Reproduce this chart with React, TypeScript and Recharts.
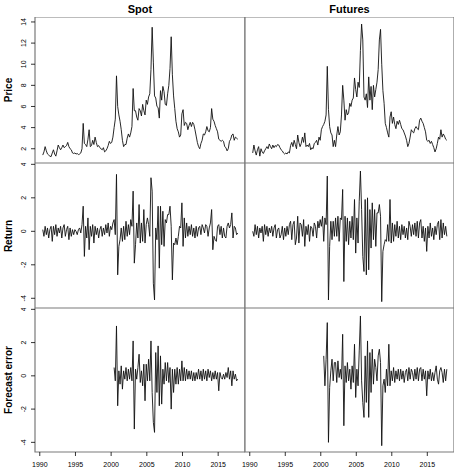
import React from 'react';
import { LineChart, Line, XAxis, YAxis, ReferenceArea } from 'recharts';

const fullStart = 1990 + 5 / 12; // first observation 1990.42
const errStart = 2000 + 5 / 12; // forecast errors begin 2000.42
const step = 1 / 6;

const columnTitles = ['Spot', 'Futures'];
const rowLabels = ['Price', 'Return', 'Forecast error'];
const yearTicks = [1990, 1995, 2000, 2005, 2010, 2015];
const priceTicks = [2, 4, 6, 8, 10, 12, 14];
const returnTicks = [-4, -2, 0, 2, 4];

const spotPrice = [
  1.4, 1.7, 2.2, 1.8,
  1.5, 1.4, 1.3, 1.25, 1.6, 1.9,
  1.5, 1.3, 1.8, 2.35, 2.1, 1.9,
  2.1, 2.35, 2.1, 2.2, 2.3, 2.6,
  2.2, 2.0, 1.9, 1.6, 1.55, 1.6,
  1.5, 1.55, 1.45, 1.5, 1.6, 2.0,
  4.4, 2.5, 2.4, 2.2, 2.9, 3.8,
  2.2, 2.3, 2.8, 2.4, 3.1, 2.6,
  2.2, 2.3, 2.1, 2.0, 1.9, 2.1,
  1.7, 1.8, 2.0, 2.3, 2.7, 2.5,
  2.6, 3.1, 4.0, 4.8, 8.9, 6.0,
  5.2, 4.6, 3.8, 2.8, 2.2, 2.4,
  2.4, 3.0, 3.4, 3.1, 3.5, 4.1,
  7.7, 5.6, 5.6, 5.0, 4.7, 5.8,
  5.6, 5.1, 6.2, 5.6, 5.2, 6.6,
  6.2, 6.9, 7.2, 9.5, 13.5, 10.2,
  7.0, 6.8, 6.0, 5.9, 4.9, 7.5,
  6.6, 7.9, 7.4, 6.2, 6.1, 7.2,
  8.0, 9.6, 12.6, 9.0, 7.0, 5.8,
  4.6, 3.9, 3.6, 3.1, 3.3, 5.3,
  5.7, 4.2, 4.5, 4.4, 3.8, 4.2,
  4.5, 4.1, 4.5, 4.3, 3.8, 3.2,
  2.6, 2.2, 2.0, 2.5, 2.8, 3.4,
  3.3, 3.6, 4.1, 3.7, 3.6, 4.0,
  5.8, 4.8, 4.6, 4.2, 3.9, 3.6,
  2.9, 2.8, 2.7, 2.8, 2.7, 2.2,
  2.1, 1.8, 2.0, 2.7, 2.9, 3.3,
  3.4, 2.8, 3.1, 3.0, 2.9,
];

const futuresPrice = [
  1.6, 2.35, 1.8, 1.4,
  1.9, 2.2, 1.3, 2.0, 1.7, 1.55,
  1.8, 2.0, 2.2, 2.0, 2.45, 2.2,
  2.0, 2.35, 2.1, 2.3, 2.2, 2.4,
  2.35, 2.1, 1.9, 1.8, 1.6, 1.5,
  1.6, 1.5, 1.7, 1.6, 2.3, 2.6,
  2.2, 2.8, 2.4, 2.0, 3.3, 2.6,
  2.2, 2.5, 3.1, 2.6, 3.5, 2.2,
  2.35, 2.2, 2.5, 1.9, 2.1, 2.0,
  2.5, 2.6, 2.8, 2.35, 3.1, 2.8,
  3.8, 4.1, 4.3, 4.6, 5.2, 9.8,
  5.7, 4.1, 3.5, 3.3, 2.2, 2.8,
  2.2, 3.3, 4.1, 3.3, 3.6, 5.2,
  8.0, 6.6, 4.7, 5.7, 5.2, 5.4,
  6.3, 6.0, 6.6, 6.8, 8.7, 7.6,
  6.9, 8.3, 7.8, 11.3, 13.8, 12.3,
  6.9, 6.6, 7.2, 5.9, 8.8, 6.6,
  7.9, 5.7, 8.0, 6.9, 7.6, 8.3,
  9.5, 12.3, 13.3, 10.0, 7.5, 6.3,
  4.4, 4.0, 3.5, 3.1, 5.0, 5.5,
  4.4, 5.0, 4.3, 3.9, 4.6, 4.3,
  4.7, 4.3, 3.9, 3.8, 3.5, 3.2,
  2.8, 2.2, 2.5, 3.1, 3.8, 3.6,
  3.5, 3.9, 4.1, 3.9, 3.8, 4.7,
  4.9, 4.6, 4.4, 4.0, 3.6, 2.8,
  2.7, 2.8, 2.5, 2.7, 2.4, 2.1,
  1.7, 2.0, 2.5, 3.1, 2.9, 3.8,
  3.1, 3.4, 3.2, 2.9, 2.8,
];

const spotReturn = [
  0.1, -0.3, 0.3, -0.2,
  0.2, -0.4, 0.1, 0.3, -0.6, 0.3,
  -0.2, 0.4, -0.3, 0.2, -0.1, 0.3,
  -0.4, 0.2, 0.4, -0.3, 0.1, 0.3,
  -0.5, 0.2, -0.3, 0.1, -0.2, 0.1,
  0.0, -0.2, 0.1, 0.2, -0.1, 0.4,
  1.5, -1.5, 0.3, -0.4, 0.8, -1.1,
  0.3, -0.3, 0.4, -0.7, 0.3, -0.2,
  0.2, -0.4, 0.1, 0.3, -0.3, 0.2,
  -0.2, 0.4, -0.1, 0.5, -0.3, 0.3,
  0.1, 0.5, 0.7, -0.2, 3.4, -2.6,
  -0.9, -0.5, 0.2, -0.6, 0.3, -0.5,
  0.6, -0.3, 0.4, -0.2, 0.7, 0.3,
  2.4, -1.9, -0.8, 0.5, -0.4, 1.6,
  -0.7, 0.5, -0.6, 1.3, -0.7, 0.4,
  0.8, 0.4, -0.3, 3.2, 2.4, -3.1,
  -4.1, 0.2, -0.5, 1.5, -2.2, 1.5,
  -0.8, 1.2, -0.9, 0.7, 0.5, 1.0,
  1.0, 1.5, 0.3, -2.9, -0.7, -0.8,
  -0.4, -0.8, -0.3, 0.3, 0.2, 1.7,
  -0.9, 0.8, -0.4, 0.5, -0.3, 0.3,
  -0.2, 0.4, -0.3, 0.2, -0.4, 0.3,
  -0.3, 0.2, 0.3, -0.2, 0.4, 0.2,
  -0.1, 0.4, 0.3, -0.3, 0.2, 0.5,
  1.3, -1.1, -0.3, -0.5, -0.6, 0.3,
  0.4, -0.2, 0.3, -0.4, 0.2, -0.3,
  -0.4, 0.3, 0.5, 0.2, 0.4, 1.1,
  -0.4, 0.3, 0.2, -0.2, -0.1,
];

const futuresReturn = [
  0.0, -0.3, 0.4, -0.2,
  0.3, -0.4, 0.2, -0.1, 0.3, -0.6,
  0.4, -0.2, 0.3, -0.3, 0.2, -0.1,
  0.3, -0.3, 0.2, 0.4, -0.4, 0.1,
  0.2, -0.4, -0.2, 0.3, -0.5, 0.2,
  -0.3, 0.3, -0.2, 0.4, 0.6, -0.5,
  0.4, 0.6, -0.8, -0.4, 0.9, -0.7,
  0.5, 0.4, -0.3, 0.7, -0.9, 0.3,
  -0.2, 0.4, -0.6, 0.3, 0.2, -0.3,
  0.5, 0.3, -0.4, 0.6, 0.2, 0.7,
  0.3, 0.9, -0.6, 0.8, 0.4, 3.3,
  -4.1, -0.9, 0.6, -0.5, 0.6, -0.3,
  0.8, -0.3, 0.9, -0.6, 0.8, 0.7,
  2.5, -3.0, 0.9, -0.6, 0.8, -0.8,
  0.6, -0.4, 0.9, -0.5, 1.9, -1.3,
  0.8, -0.7, 1.8, 3.6, 1.3, -1.5,
  -2.4, 1.9, -2.6, 2.0, -2.3, 1.3,
  -1.0, 1.7, -0.5, 1.3, -0.9, 1.1,
  1.1, 1.6, 0.9, -4.2, -1.2, -0.8,
  -0.5, -0.6, 0.4, -0.6, 1.9, -0.7,
  0.5, -0.6, 0.4, -0.3, 0.6, -0.4,
  0.3, -0.5, 0.4, -0.2, 0.3, -0.4,
  0.2, -0.5, 0.6, 0.3, -0.3, 0.4,
  -0.2, 0.5, -0.3, 0.6, -0.4, 0.5,
  0.7, -0.4, 0.3, -0.6, 0.2, -1.2,
  0.3, -0.4, 0.5, -0.3, 0.2, -0.5,
  0.3, -0.2, 0.4, 0.6, -0.5, 0.7,
  -0.4, 0.5, -0.2, 0.3, -0.3,
];

const spotError = [
  0.5, -0.3, 3.0, -1.8,
  0.3, -0.5, 0.6, -0.8, 0.3, -0.2,
  0.5, -0.3, 0.4, -0.2, 0.5, -0.3,
  2.1, -3.2, 0.4, -0.2, 0.5, 1.3,
  -0.4, 0.3, -0.6, 0.7, -1.5, 0.7,
  -0.3, 1.0, -0.3, 2.1, -1.0, -2.8,
  -3.4, 1.4, -1.0, 1.8, -1.8, 1.2,
  -1.7, 0.4, -0.5, 0.8, -0.3, 0.8,
  -0.4, 0.5, -2.0, 0.4, -1.0, 0.4,
  -0.5, 0.5, -0.5, 0.4, -0.3, 0.9,
  -0.3, 0.5, -0.3, 0.4, -0.2, 0.3,
  -0.2, 0.3, -0.3, 0.2, -0.3, 0.2,
  -0.2, 0.4, -0.2, 0.3, -0.3, 0.4,
  -0.2, 0.3, -0.3, 0.4, -0.1, 0.3,
  -0.3, 0.2, -0.2, 0.3, -0.2, 0.2,
  -0.9, 0.2, -0.1, -0.2, 0.1, -0.2,
  0.2, -0.1, 0.5, -0.2, 0.3, -0.6,
  0.3, -0.2, 0.1, -0.3, -0.2,
];

const futuresError = [
  1.2, -0.6, 1.0, 3.2,
  -4.0, -0.7, 0.3, 1.0, -0.3, 0.8,
  0.8, -0.4, 0.9, -0.1, 0.4, -0.2,
  2.5, -3.0, 0.6, -0.4, 0.8, -0.3,
  0.4, -0.8, 0.6, -0.4, 1.9, -1.3,
  0.4, -0.6, 1.5, 3.6, -0.3, -1.6,
  -2.5, 1.2, -1.6, 2.1, -2.5, 1.4,
  -1.0, 1.6, -0.5, 1.0, 0.5, -0.3,
  1.2, 1.6, 0.8, -4.2, -0.6, -0.2,
  -1.0, 0.4, -0.6, 1.9, -0.6, 0.3,
  -0.3, 0.5, -0.4, 0.3, -0.2, 0.4,
  -0.3, 0.4, -0.2, 0.3, -0.4, 0.2,
  0.4, -0.3, 0.5, -0.2, 0.4, 0.2,
  -0.3, 0.4, -0.2, 0.5, -0.3, 0.4,
  0.5, -0.3, 0.4, -0.2, 0.3, -1.2,
  0.3, -0.2, 0.4, -0.3, 0.2, -0.3,
  0.2, 0.6, -0.2, -0.5, 0.3, 0.5,
  0.2, -0.4, 0.4, -0.3, 0.4,
];

// ---------- layout ----------
const FONT = '"Liberation Sans", Arial, Helvetica, sans-serif';
const XDOMAIN: [number, number] = [1989.33, 2018.76];
const PRICE_DOMAIN: [number, number] = [0.65, 14.47];
const RET_DOMAIN: [number, number] = [-4.58, 4.08];
const COLS = [
  { x: 35, w: 210 },
  { x: 245, w: 209 },
];
const ROWS = [
  { y: 17, h: 146 },
  { y: 163, h: 145 },
  { y: 308, h: 144 },
];

const toPoints = (values: number[], start: number) =>
  values.map((v, i) => ({ t: start + i * step, v }));

const RotTick = (props: any) => {
  const { x, y, payload } = props;
  return (
    <text
      x={x}
      y={y}
      transform={`rotate(-90 ${x} ${y})`}
      textAnchor="middle"
      fontSize={7}
      fill="#000"
      fontFamily={FONT}
    >
      {payload.value}
    </text>
  );
};

type PanelProps = {
  col: number;
  row: number;
  data: { t: number; v: number }[];
  yDomain: [number, number];
  yTicks: number[];
};

function Panel({ col, row, data, yDomain, yTicks }: PanelProps) {
  const showY = col === 0;
  const showX = row === 2;
  const axW = showY ? 35 : 0;
  const padL = showY ? 0 : 12; // room for the first x label of the right column
  const axH = showX ? 17 : 0;
  const { x, w } = COLS[col];
  const { y, h } = ROWS[row];
  return (
    <div style={{ position: 'absolute', left: x - axW - padL, top: y }}>
      <LineChart
        width={w + axW + padL}
        height={h + axH}
        data={data}
        margin={{ top: 0, right: 0, bottom: 0, left: padL }}
      >
        <XAxis
          type="number"
          dataKey="t"
          domain={XDOMAIN}
          ticks={yearTicks}
          interval={0}
          allowDataOverflow
          hide={!showX}
          height={axH}
          axisLine={false}
          tickLine={{ stroke: '#000', strokeWidth: 0.8 }}
          tickSize={4}
          tickMargin={6}
          tick={{ fontSize: 7, fill: '#000', fontFamily: FONT }}
        />
        <YAxis
          type="number"
          domain={yDomain}
          ticks={yTicks}
          interval={0}
          allowDataOverflow
          hide={!showY}
          width={axW}
          axisLine={false}
          tickLine={{ stroke: '#000', strokeWidth: 0.8 }}
          tickSize={4}
          tickMargin={5}
          tick={RotTick}
        />
        <ReferenceArea
          x1={XDOMAIN[0]}
          x2={XDOMAIN[1]}
          y1={yDomain[0]}
          y2={yDomain[1]}
          fill="none"
          fillOpacity={0}
          stroke="#7a7a7a"
          strokeWidth={1.2}
          ifOverflow="visible"
        />
        <Line
          type="linear"
          dataKey="v"
          stroke="#111"
          strokeWidth={0.9}
          dot={false}
          activeDot={false}
          isAnimationActive={false}
        />
      </LineChart>
    </div>
  );
}

export default function App() {
  const panels: PanelProps[] = [
    { col: 0, row: 0, data: toPoints(spotPrice, fullStart), yDomain: PRICE_DOMAIN, yTicks: priceTicks },
    { col: 1, row: 0, data: toPoints(futuresPrice, fullStart), yDomain: PRICE_DOMAIN, yTicks: priceTicks },
    { col: 0, row: 1, data: toPoints(spotReturn, fullStart), yDomain: RET_DOMAIN, yTicks: returnTicks },
    { col: 1, row: 1, data: toPoints(futuresReturn, fullStart), yDomain: RET_DOMAIN, yTicks: returnTicks },
    { col: 0, row: 2, data: toPoints(spotError, errStart), yDomain: RET_DOMAIN, yTicks: returnTicks },
    { col: 1, row: 2, data: toPoints(futuresError, errStart), yDomain: RET_DOMAIN, yTicks: returnTicks },
  ];
  return (
    <div
      style={{
        position: 'absolute',
        left: 0,
        top: 0,
        width: 456,
        height: 469,
        background: '#fff',
        fontFamily: FONT,
        overflow: 'hidden',
      }}
    >
      {columnTitles.map((t, i) => (
        <div
          key={t}
          style={{
            position: 'absolute',
            left: COLS[i].x,
            width: COLS[i].w,
            top: 3,
            textAlign: 'center',
            fontWeight: 'bold',
            fontSize: 11,
            lineHeight: '13px',
          }}
        >
          {t}
        </div>
      ))}
      {rowLabels.map((t, i) => (
        <div
          key={t}
          style={{
            position: 'absolute',
            left: 7.5,
            top: ROWS[i].y + ROWS[i].h / 2,
            transform: 'translate(-50%, -50%) rotate(-90deg)',
            whiteSpace: 'nowrap',
            fontWeight: 'bold',
            fontSize: 10,
            lineHeight: '11px',
          }}
        >
          {t}
        </div>
      ))}
      {panels.map((p) => (
        <Panel key={`${p.col}-${p.row}`} {...p} />
      ))}
    </div>
  );
}
